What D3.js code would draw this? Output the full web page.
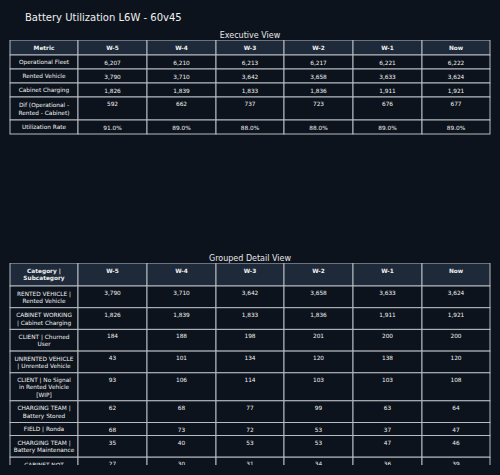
<!DOCTYPE html>
<html><head><meta charset="utf-8">
<script src="https://cdn.jsdelivr.net/npm/d3@7"></script>
<style>body{margin:0;background:#0d131c;}svg{display:block;font-family:"DejaVu Sans",Verdana,sans-serif;}</style>
</head><body><div id="chart"></div>
<script>
var weeks = ["W-5","W-4","W-3","W-2","W-1","Now"];

// executive view
var execMetrics = [["Operational Fleet"],["Rented Vehicle"],["Cabinet Charging"],["Dif (Operational -","Rented - Cabinet)"],["Utilization Rate"]];
var execValues = [
  ["6,207","6,210","6,213","6,217","6,221","6,222"],
  ["3,790","3,710","3,642","3,658","3,633","3,624"],
  ["1,826","1,839","1,833","1,836","1,911","1,921"],
  ["592","662","737","723","676","677"],
  ["91.0%","89.0%","88.0%","88.0%","89.0%","89.0%"]
];

// grouped detail view
var detailCats = [
  ["RENTED VEHICLE |","Rented Vehicle"],
  ["CABINET WORKING","| Cabinet Charging"],
  ["CLIENT | Churned","User"],
  ["UNRENTED VEHICLE","| Unrented Vehicle"],
  ["CLIENT | No Signal","in Rented Vehicle","[WIP]"],
  ["CHARGING TEAM |","Battery Stored"],
  ["FIELD | Ronda"],
  ["CHARGING TEAM |","Battery Maintenance"],
  ["CABINET NOT","WORKING"]
];
var detailValues = [
  ["3,790","3,710","3,642","3,658","3,633","3,624"],
  ["1,826","1,839","1,833","1,836","1,911","1,921"],
  ["184","188","198","201","200","200"],
  ["43","101","134","120","138","120"],
  ["93","106","114","103","103","108"],
  ["62","68","77","99","63","64"],
  ["68","73","72","53","37","47"],
  ["35","40","53","53","47","46"],
  ["27","30","31","34","36","39"]
];

var W = 500, H = 475;
var svg = d3.select("#chart").append("svg").attr("width", W).attr("height", H);
svg.append("rect").attr("width", W).attr("height", H).attr("fill", "#0d131c");

svg.append("text").attr("x", 25).attr("y", 21).attr("fill", "#f0f0f0")
  .attr("font-size", "10px").text("Battery Utilization L6W - 60v45");

var colEdges = [10, 78, 147, 216, 284, 353, 422, 490];

function drawTable(title, titleY, top, header, headerH, labels, values, rowH, clipBottom) {
  svg.append("text").attr("x", 250).attr("y", titleY).attr("text-anchor", "middle")
    .attr("fill", "#e8e8e8").attr("font-size", "8px").text(title);

  var clipId = "clip" + Math.round(top);
  svg.append("clipPath").attr("id", clipId).append("rect")
    .attr("x", 0).attr("y", top).attr("width", W).attr("height", clipBottom - top);
  var t = svg.append("g").attr("clip-path", "url(#" + clipId + ")");

  var rows = [{label: header, vals: weeks, h: headerH, head: true}];
  labels.forEach(function(l, i){ rows.push({label: l, vals: values[i], h: rowH(l)}); });
  var y = top;
  rows.forEach(function(r){ r.y = y; y += r.h; });

  rows.forEach(function(r){
    for (var c = 0; c < 7; c++) {
      var x0 = colEdges[c], x1 = colEdges[c+1];
      t.append("rect").attr("x", x0).attr("y", r.y).attr("width", x1 - x0).attr("height", r.h)
        .attr("fill", r.head ? "#1e2a3a" : "#0d131c")
        .attr("stroke", "#b8bcc2").attr("stroke-width", 1);
      var cx = (x0 + x1) / 2;
      if (c === 0) {
        var n = r.label.length;
        var startY = r.head ? r.y + 10 : r.y + r.h / 2 - (n - 1) * 3.6 + 2.3;
        r.label.forEach(function(s, k){
          t.append("text").attr("x", cx).attr("y", startY + k * 7.3).attr("text-anchor", "middle")
            .attr("fill", "#f0f0f0").attr("font-size", "5.8px")
            .attr("font-weight", r.head ? "bold" : "normal").text(s);
        });
      } else {
        t.append("text").attr("x", cx).attr("y", r.head ? r.y + 10 : r.y + (r.h > 16 ? 9 : 9.5))
          .attr("text-anchor", "middle").attr("fill", "#f0f0f0").attr("font-size", "5.8px")
          .attr("font-weight", r.head ? "bold" : "normal").text(r.vals[c-1]);
      }
    }
  });
}

drawTable("Executive View", 38, 40, ["Metric"], 15, execMetrics, execValues,
  function(l){ return l.length > 1 ? 23 : 14; }, 140);
drawTable("Grouped Detail View", 261, 263, ["Category |","Subcategory"], 23, detailCats, detailValues,
  function(l){ return l.length === 3 ? 28 : (l.length === 2 ? 21.7 : 13); }, 465);
</script></body></html>
